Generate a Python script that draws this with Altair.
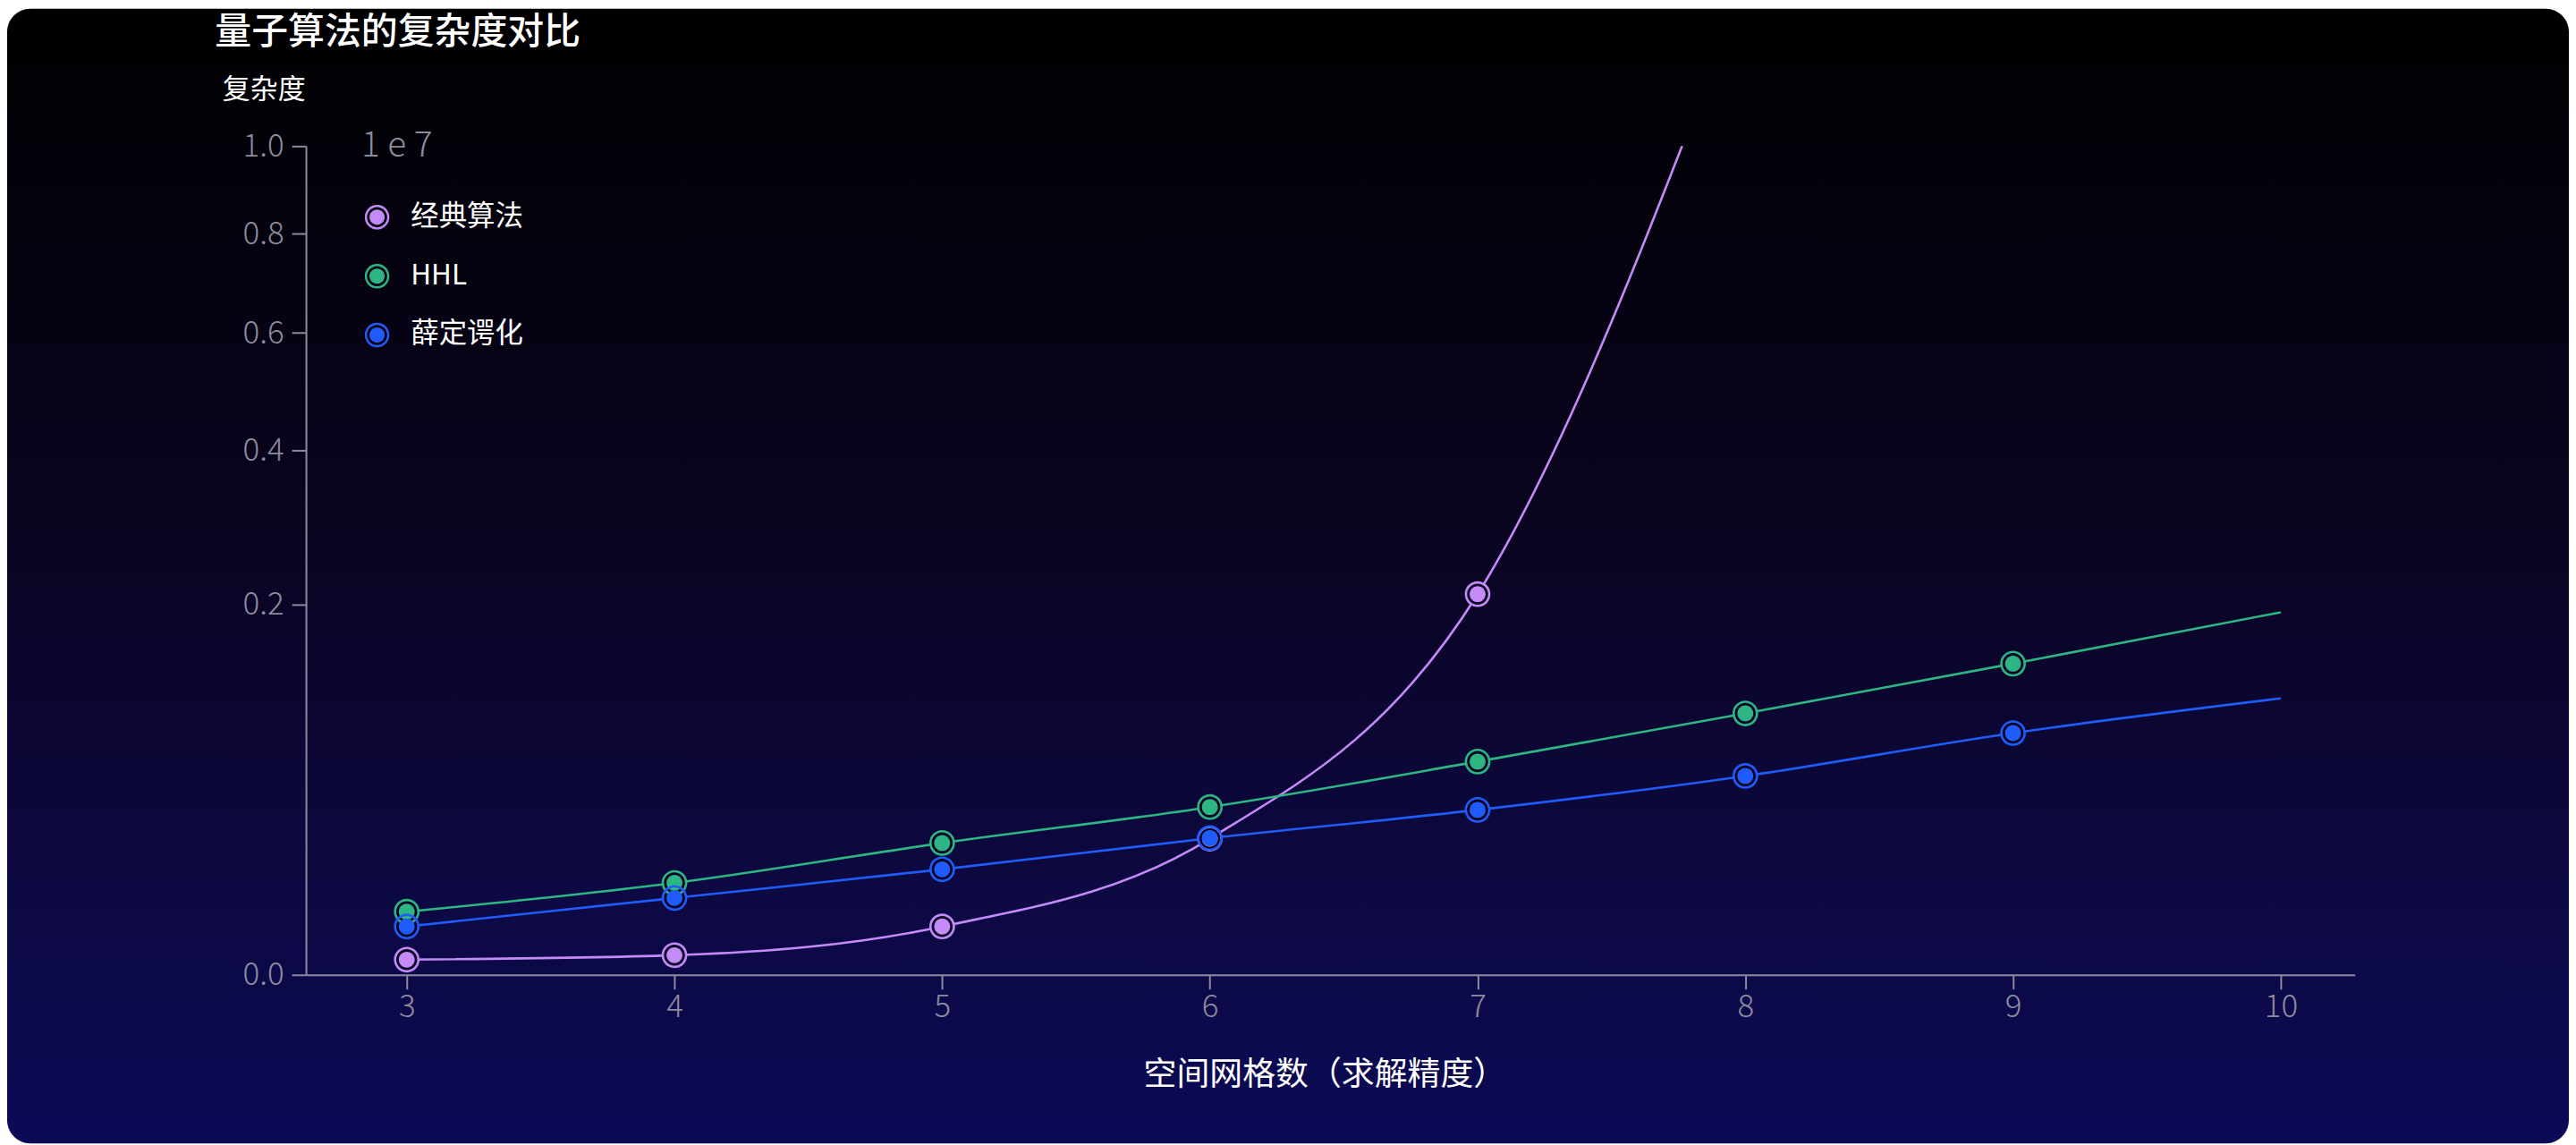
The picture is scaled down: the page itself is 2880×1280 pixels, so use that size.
import altair as alt
import pandas as pd

# ---------------- data ----------------
x_vals = [3, 4, 5, 6, 7, 8, 9, 10]
classical = [0.000335, 0.00056, 0.0034, 0.027, 0.211, 1.44, None, None]   # x 1e7
hhl = [0.0058, 0.0123, 0.0253, 0.041, 0.0662, 0.0995, 0.141, 0.1914]
schrodinger = [0.0034, 0.0086, 0.0162, 0.0272, 0.0396, 0.0576, 0.0851, 0.1113]
series_names = ["经典算法", "HHL", "薛定谔化"]
series_colors = ["#c48af8", "#2db683", "#1f5cfb"]
y_ticks = [0.0, 0.2, 0.4, 0.6, 0.8, 1.0]
x_ticks = [3, 4, 5, 6, 7, 8, 9, 10]
title_text = "量子算法的复杂度对比"
y_title = "复杂度"
x_title = "空间网格数（求解精度）"
exp_text = "1 e 7"

rows = []
for name, vals in zip(series_names, [classical, hhl, schrodinger]):
    for xv, v in zip(x_vals, vals):
        if v is not None:
            rows.append({"x": xv, "v": v, "s": name, "line": name})
df = pd.DataFrame(rows)

# ---------------- layout ----------------
FONT = "Noto Sans CJK SC"
W, H = 2297, 929
PL, PT = 335, 154
TOTAL_W, TOTAL_H = 2872, 1272
GRAY = "#8d8b9e"

RING = ("M1,0A1,1,0,1,1,-1,0A1,1,0,1,1,1,0Z"
        "M0.82,0A0.82,0.82,0,1,0,-0.82,0A0.82,0.82,0,1,0,0.82,0Z"
        "M0.62,0A0.62,0.62,0,1,1,-0.62,0A0.62,0.62,0,1,1,0.62,0Z")

xscale = alt.Scale(domain=[2.6235, 10.2765], nice=False, zero=False)
yscale = alt.Scale(type="sqrt", domain=[0, 1], nice=False, zero=True)
cscale = alt.Scale(domain=series_names, range=series_colors)
# same mapping, listed in another order so the line scale stays separate from the legend scale
line_scale = alt.Scale(domain=series_names[::-1], range=series_colors[::-1])

x_axis = alt.Axis(
    values=x_ticks, format="d", title=x_title, grid=False, zindex=1,
    domainColor=GRAY, domainWidth=2, tickColor=GRAY, tickWidth=2, tickSize=16,
    labelFont=FONT, labelFontSize=35, labelFontWeight=300, labelColor=GRAY, labelPadding=3,
    titleFont=FONT, titleFontSize=37, titleFontWeight="normal", titleColor="white",
    titleX=1142, titleY=112, titleAlign="center", titleBaseline="middle",
)
y_axis = alt.Axis(
    values=y_ticks, format=".1f", title=y_title, grid=False, zindex=1,
    domainColor=GRAY, domainWidth=2, tickColor=GRAY, tickWidth=2, tickSize=16,
    labelFont=FONT, labelFontSize=35, labelFontWeight=300, labelColor=GRAY, labelPadding=9,
    titleFont=FONT, titleFontSize=31, titleFontWeight="normal", titleColor="white",
    titleAngle=0, titleX=-94, titleY=-63, titleAlign="left", titleBaseline="middle",
)

one = pd.DataFrame({"a": [0]})

bg = alt.Chart(one).mark_rect(
    cornerRadius=26,
    fill=alt.Gradient(
        gradient="linear", x1=0, x2=0, y1=0, y2=1,
        stops=[
            alt.GradientStop(offset=0, color="#000000"),
            alt.GradientStop(offset=0.45, color="#0a0420"),
            alt.GradientStop(offset=0.8, color="#0d0944"),
            alt.GradientStop(offset=1, color="#0b0a56"),
        ],
    ),
).encode(
    x=alt.value(-PL), x2=alt.value(TOTAL_W - PL),
    y=alt.value(-PT), y2=alt.value(TOTAL_H - PT),
)

title = alt.Chart(one).mark_text(
    text=title_text, font=FONT, fontSize=41, fontWeight=500, color="white",
    align="left", baseline="middle",
).encode(x=alt.value(-102), y=alt.value(-127))

exp_label = alt.Chart(one).mark_text(
    text=exp_text, font=FONT, fontSize=39, fontWeight=300, color=GRAY,
    align="left", baseline="middle",
).encode(x=alt.value(62), y=alt.value(0))

base = alt.Chart(df)

lines = base.mark_line(interpolate="monotone", strokeWidth=2.6, clip=True).encode(
    x=alt.X("x:Q", scale=xscale, axis=x_axis),
    y=alt.Y("v:Q", scale=yscale, axis=y_axis),
    stroke=alt.Stroke("line:N", scale=line_scale, legend=None),
)

pts = base.transform_filter("datum.x <= 9 && datum.v <= 1")

holes = pts.mark_point(
    filled=True, shape="circle", size=580, fill="#0b0626", opacity=1, strokeWidth=0
).encode(x=alt.X("x:Q", scale=xscale), y=alt.Y("v:Q", scale=yscale))

rings = pts.mark_point(
    filled=True, shape=RING, size=830, opacity=1, strokeWidth=0
).encode(
    x=alt.X("x:Q", scale=xscale),
    y=alt.Y("v:Q", scale=yscale),
    fill=alt.Fill(
        "s:N", scale=cscale,
        legend=alt.Legend(
            title=None, orient="none", legendX=64, legendY=64, direction="vertical",
            symbolType=RING, symbolSize=760, symbolStrokeWidth=0, symbolOpacity=1,
            labelFont=FONT, labelFontSize=31.5, labelColor="white", labelOffset=22,
            rowPadding=33, padding=0, zindex=2,
        ),
    ),
)

chart = alt.layer(bg, title, exp_label, lines, holes, rings).properties(
    width=W, height=H,
    autosize=alt.AutoSizeParams(type="none"),
    padding={"left": PL, "top": PT, "right": TOTAL_W - PL - W, "bottom": TOTAL_H - PT - H},
).configure_view(stroke=None).configure(background="white")

chart.save("out.html", embed_options={"renderer": "svg", "actions": False})
